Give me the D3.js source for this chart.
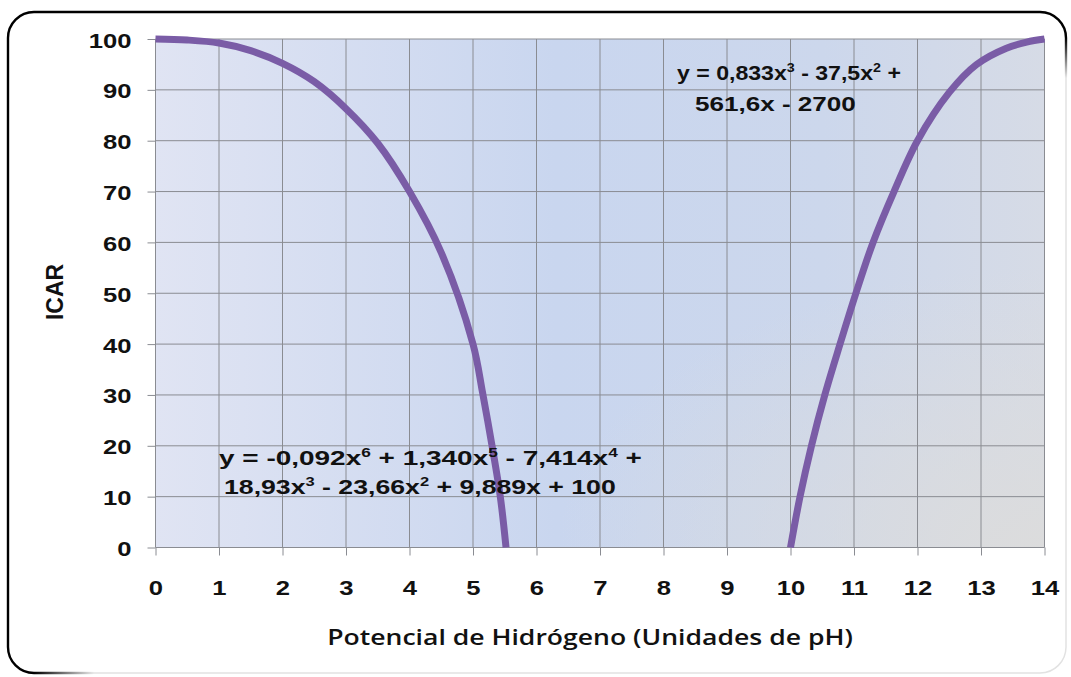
<!DOCTYPE html>
<html>
<head>
<meta charset="utf-8">
<script src="https://cdn.jsdelivr.net/npm/d3@7"></script>
<style>
  html, body { margin: 0; padding: 0; background: #ffffff; }
  svg { display: block; }
</style>
</head>
<body>
<svg id="chart" width="1071" height="677"></svg>
<script>
// ICAR index against pH: acid branch and alkaline branch
const acidPH   = [0, 0.5, 1, 1.5, 2, 2.5, 3, 3.5, 4, 4.5, 5, 5.15, 5.3, 5.43, 5.52];
const acidICAR = [100, 99.8, 99.2, 97.7, 95.2, 91.6, 86.3, 79.5, 70, 58, 40, 30.5, 20, 10, 0];

const alkPH    = [10, 10.15, 10.33, 10.54, 10.78, 11.03, 11.3, 11.63, 12, 12.5, 12.93, 13.4, 13.72, 14];
const alkICAR  = [0, 10, 20, 30, 40, 50, 60, 70, 80, 89.5, 95, 98.2, 99.4, 100];

const xTickLabels = [0, 1, 2, 3, 4, 5, 6, 7, 8, 9, 10, 11, 12, 13, 14];
const yTickLabels = [0, 10, 20, 30, 40, 50, 60, 70, 80, 90, 100];

const acidEquation = [
  [["y = -0,092x"], ["6", "sup"], [" + 1,340x"], ["5", "sup"], [" - 7,414x"], ["4", "sup"], [" +"]],
  [["18,93x"], ["3", "sup"], [" - 23,66x"], ["2", "sup"], [" + 9,889x + 100"]]
];
const alkEquation = [
  [["y = 0,833x"], ["3", "sup"], [" - 37,5x"], ["2", "sup"], [" +"]],
  [["561,6x - 2700"]]
];

const svg = d3.select("#chart");
const FONT = "'Liberation Sans', Arial, Helvetica, sans-serif";
const SX = 1.22; // horizontal stretch of the bold labels

const x = d3.scaleLinear().domain([0, 14]).range([155.5, 1044.5]);
const y = d3.scaleLinear().domain([0, 100]).range([547.5, 39]);

const defs = svg.append("defs");

// plot-area fill: lavender on the left, bluer centre, greyer toward the right
const lg = defs.append("linearGradient").attr("id", "plotFill")
  .attr("x1", 0).attr("y1", 0).attr("x2", 1).attr("y2", 0);
[[0, "#e0e4f3"], [0.45, "#c9d6ef"], [0.75, "#ccd7ec"], [1, "#d6dbe6"]]
  .forEach(([o, c]) => lg.append("stop").attr("offset", o).attr("stop-color", c));

const rg = defs.append("radialGradient").attr("id", "plotShade")
  .attr("cx", 1).attr("cy", 1).attr("r", 0.55);
rg.append("stop").attr("offset", 0).attr("stop-color", "#dcdcdc").attr("stop-opacity", 0.95);
rg.append("stop").attr("offset", 1).attr("stop-color", "#dcdcdc").attr("stop-opacity", 0);

// outer rounded frame: dark on the top and left, pale on the bottom and right
const fx0 = 8, fy0 = 12, fx1 = 1066, fy1 = 673, r = 26;
svg.append("rect")
  .attr("x", fx0).attr("y", fy0).attr("width", fx1 - fx0).attr("height", fy1 - fy0)
  .attr("rx", r).attr("ry", r)
  .attr("fill", "#ffffff").attr("stroke", "#e2e2e2").attr("stroke-width", 1.5);

const frameMain = d3.path();
frameMain.moveTo(fx0 + r, fy1);
frameMain.arcTo(fx0, fy1, fx0, fy1 - r, r);
frameMain.lineTo(fx0, fy0 + r);
frameMain.arcTo(fx0, fy0, fx0 + r, fy0, r);
frameMain.lineTo(fx1 - r, fy0);
frameMain.arcTo(fx1, fy0, fx1, fy0 + r, r);

const fadeBottom = defs.append("linearGradient").attr("id", "fadeBottom")
  .attr("gradientUnits", "userSpaceOnUse")
  .attr("x1", fx0 + r).attr("y1", 0).attr("x2", fx0 + r + 60).attr("y2", 0);
fadeBottom.append("stop").attr("offset", 0).attr("stop-color", "#000").attr("stop-opacity", 1);
fadeBottom.append("stop").attr("offset", 1).attr("stop-color", "#000").attr("stop-opacity", 0);

const fadeRight = defs.append("linearGradient").attr("id", "fadeRight")
  .attr("gradientUnits", "userSpaceOnUse")
  .attr("x1", 0).attr("y1", fy0 + r).attr("x2", 0).attr("y2", fy0 + r + 40);
fadeRight.append("stop").attr("offset", 0).attr("stop-color", "#000").attr("stop-opacity", 1);
fadeRight.append("stop").attr("offset", 1).attr("stop-color", "#000").attr("stop-opacity", 0);

svg.append("path")
  .attr("d", frameMain.toString())
  .attr("fill", "none").attr("stroke", "#000").attr("stroke-width", 2.4);
svg.append("line")
  .attr("x1", fx0 + r).attr("x2", fx0 + r + 60).attr("y1", fy1).attr("y2", fy1)
  .attr("stroke", "url(#fadeBottom)").attr("stroke-width", 2.4);
svg.append("line")
  .attr("x1", fx1).attr("x2", fx1).attr("y1", fy0 + r).attr("y2", fy0 + r + 40)
  .attr("stroke", "url(#fadeRight)").attr("stroke-width", 2.4);

// plot background
const plot = svg.append("g");
plot.append("rect")
  .attr("x", x(0)).attr("y", y(100))
  .attr("width", x(14) - x(0)).attr("height", y(0) - y(100))
  .attr("fill", "url(#plotFill)");
plot.append("rect")
  .attr("x", x(0)).attr("y", y(100))
  .attr("width", x(14) - x(0)).attr("height", y(0) - y(100))
  .attr("fill", "url(#plotShade)");

// grid
const gridColor = "#8a8c92";
plot.append("g").selectAll("line").data(xTickLabels).join("line")
  .attr("x1", d => x(d)).attr("x2", d => x(d))
  .attr("y1", y(100)).attr("y2", y(0))
  .attr("stroke", gridColor).attr("stroke-width", 1);
plot.append("g").selectAll("line").data(yTickLabels).join("line")
  .attr("x1", x(0)).attr("x2", x(14))
  .attr("y1", d => y(d)).attr("y2", d => y(d))
  .attr("stroke", gridColor).attr("stroke-width", 1);

// axes
const yAxis = svg.append("g")
  .attr("transform", `translate(${x(0)},0)`)
  .call(d3.axisLeft(y).tickValues(yTickLabels).tickSize(8).tickPadding(0));
const xAxis = svg.append("g")
  .attr("transform", `translate(0,${y(0)})`)
  .call(d3.axisBottom(x).tickValues(xTickLabels).tickSize(8).tickPadding(0));

[yAxis, xAxis].forEach(a => {
  a.select(".domain").remove();
  a.selectAll(".tick line").attr("stroke", gridColor).attr("stroke-width", 1);
  a.selectAll(".tick text")
    .attr("fill", "#111")
    .style("font-family", FONT)
    .style("font-weight", "bold")
    .style("font-size", "21px");
});

yAxis.selectAll(".tick text")
  .attr("x", null).attr("dy", null)
  .attr("text-anchor", "end")
  .attr("transform", `translate(-24,8) scale(${SX},1)`);
xAxis.selectAll(".tick text")
  .attr("y", null).attr("dy", null)
  .attr("text-anchor", "middle")
  .attr("transform", `translate(0,47) scale(${SX},1)`);

// curves
const line = d3.line()
  .x(d => x(d[0])).y(d => y(d[1]))
  .curve(d3.curveCatmullRom.alpha(0.5));

const curveColor = "#7a5ca6";
svg.append("path")
  .datum(acidPH.map((p, i) => [p, acidICAR[i]]))
  .attr("d", line)
  .attr("fill", "none").attr("stroke", curveColor)
  .attr("stroke-width", 7).attr("stroke-linejoin", "round");
svg.append("path")
  .datum(alkPH.map((p, i) => [p, alkICAR[i]]))
  .attr("d", line)
  .attr("fill", "none").attr("stroke", curveColor)
  .attr("stroke-width", 7).attr("stroke-linejoin", "round");

// equation labels, each line stretched to its printed width
function equationLine(parts, left, baseline, width) {
  const t = svg.append("text")
    .attr("fill", "#111")
    .style("font-family", FONT)
    .style("font-weight", "bold")
    .style("font-size", "21px");
  let raised = false;
  parts.forEach(([s, kind]) => {
    const ts = t.append("tspan").text(s);
    if (kind === "sup") {
      ts.style("font-size", "13px").attr("dy", -8);
      raised = true;
    } else if (raised) {
      ts.attr("dy", 8);
      raised = false;
    }
  });
  const natural = t.node().getComputedTextLength();
  t.attr("transform", `translate(${left},${baseline}) scale(${width / natural},1)`);
}

equationLine(acidEquation[0], 219, 465, 423);
equationLine(acidEquation[1], 224, 494, 392);
equationLine(alkEquation[0], 677, 80, 224);
equationLine(alkEquation[1], 695, 111, 161);

// axis titles
svg.append("text")
  .attr("transform", "translate(63,292) rotate(-90)")
  .attr("text-anchor", "middle")
  .attr("fill", "#111")
  .style("font-family", FONT)
  .style("font-weight", "bold")
  .style("font-size", "23px")
  .text("ICAR");

const xt = svg.append("text")
  .attr("fill", "#111")
  .attr("text-anchor", "middle")
  .style("font-family", "'Open Sans', 'Noto Sans', sans-serif")
  .style("font-weight", "600")
  .style("font-size", "21px")
  .text("Potencial de Hidrógeno (Unidades de pH)");
const xtw = xt.node().getComputedTextLength();
xt.attr("transform", `translate(590,645) scale(${526 / xtw},1)`);
</script>
</body>
</html>
